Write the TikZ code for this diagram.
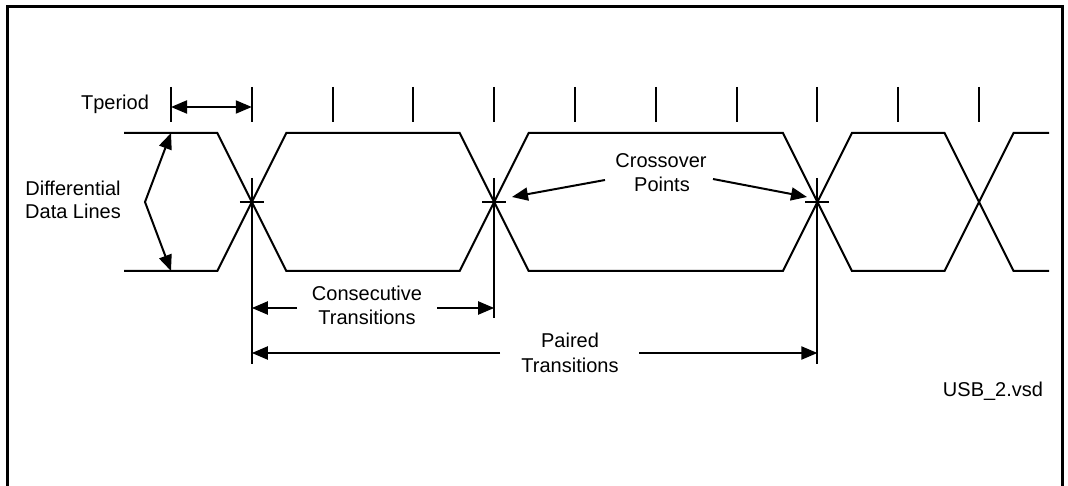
\documentclass[tikz,border=0pt]{standalone}
\usepackage{fontspec}
\setmainfont{Liberation Sans}
\usetikzlibrary{arrows.meta,calc}
\begin{document}
\begin{tikzpicture}[x=1pt,y=-1pt,
  wave/.style={line width=2pt, line join=miter},
  tickline/.style={line width=2pt},
  tipA/.tip={Triangle[length=16pt,width=13pt]},
  dimarrow/.style={line width=2pt, -tipA},
  dblarrow/.style={line width=2pt, tipA-tipA, line join=miter},
  lbl/.style={font=\fontsize{20}{23}\selectfont, inner sep=0pt, anchor=base},
]
\useasboundingbox (0,0) rectangle (1068,486);
% frame
\draw[line width=2.4pt] (7.5,487) -- (7.5,6.5) -- (1062.5,6.5) -- (1062.5,487);

% period ticks
\foreach \i in {0,...,10} {
  \draw[tickline] ({171+80.8*\i},87) -- ({171+80.8*\i},122);
}

% crossover points
\coordinate (x1) at (251.8,202);
\coordinate (x2) at (494.2,202);
\coordinate (x3) at (817.4,202);
\coordinate (x4) at (979,202);

% differential waveforms
\draw[wave] (124,133) -- (217.3,133) -- (286.3,271) -- (459.7,271) -- (528.7,133)
  -- (782.9,133) -- (851.9,271) -- (944.5,271) -- (1013.5,133) -- (1049,133);
\draw[wave] (124,271) -- (217.3,271) -- (286.3,133) -- (459.7,133) -- (528.7,271)
  -- (782.9,271) -- (851.9,133) -- (944.5,133) -- (1013.5,271) -- (1049,271);

% crossover markers
\foreach \c/\d in {x1/162, x2/116, x3/162} {
  \draw[tickline] ($(\c)+(-12,0)$) -- ($(\c)+(12,0)$);
  \draw[tickline] ($(\c)+(0,-24)$) -- ($(\c)+(0,\d)$);
}

% Tperiod
\node[lbl] (tp) at (115,110) {Tperiod};
\coordinate (tpL) at (171,107);
\coordinate (tpR) at (251.8,107);
\draw[dblarrow] (tpL) -- (tpR);

% Differential Data Lines
\node[lbl] (dd1) at (73,196) {Differential};
\node[lbl] (dd2) at (73,219) {Data Lines};
\coordinate (ddT) at (171,133);
\coordinate (ddM) at (145,202);
\coordinate (ddB) at (171,271);
\draw[dblarrow] (ddT) -- (ddM) -- (ddB);

% Crossover Points
\node[lbl] (co1) at (661,168) {Crossover};
\node[lbl] (co2) at (662,192) {Points};
\coordinate (coL) at (605,180);
\coordinate (coR) at (713,179);
\coordinate (tipL) at (512,197);
\coordinate (tipR) at (807,197);
\draw[dimarrow] (coL) -- (tipL);
\draw[dimarrow] (coR) -- (tipR);

% Consecutive Transitions
\node[lbl] (cs1) at (367,301) {Consecutive};
\node[lbl] (cs2) at (367,324) {Transitions};
\coordinate (csL) at (297,308);
\coordinate (csR) at (437,308);
\coordinate (csA) at (251.8,308);
\coordinate (csB) at (494.2,308);
\draw[dimarrow] (csL) -- (csA);
\draw[dimarrow] (csR) -- (csB);

% Paired Transitions
\node[lbl] (pd1) at (570,347) {Paired};
\node[lbl] (pd2) at (570,372) {Transitions};
\coordinate (pdL) at (500,353);
\coordinate (pdR) at (639,353);
\coordinate (pdA) at (251.8,353);
\coordinate (pdB) at (817.4,353);
\draw[dimarrow] (pdL) -- (pdA);
\draw[dimarrow] (pdR) -- (pdB);

% file name
\node[lbl] (usb) at (993,396) {USB\_2.vsd};
\end{tikzpicture}
\end{document}
